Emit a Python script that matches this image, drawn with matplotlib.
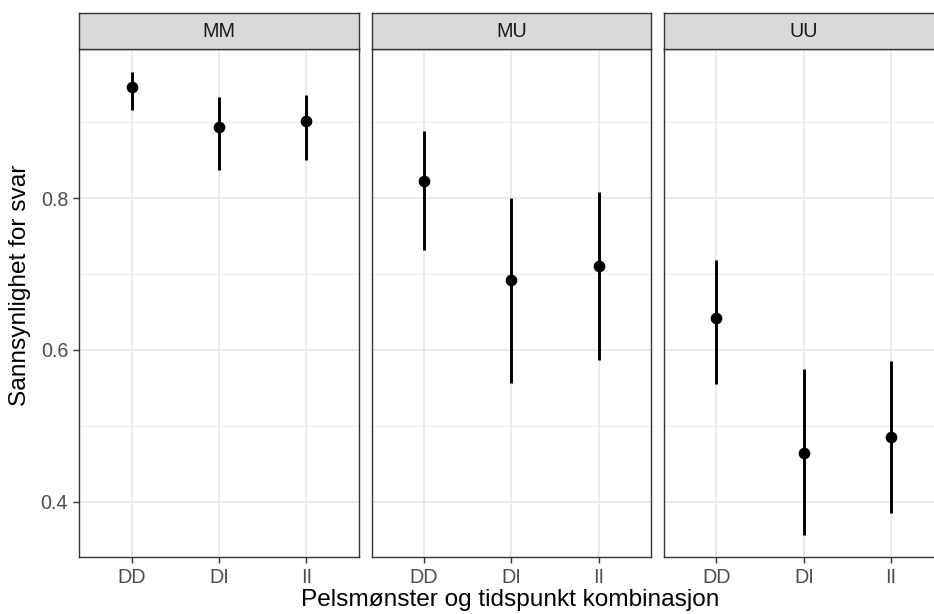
import matplotlib
matplotlib.use("Agg")
import matplotlib.pyplot as plt
import numpy as np

plt.rcParams['font.family'] = ['Liberation Sans', 'DejaVu Sans']

# Data
groups = ["MM", "MU", "UU"]
combos = ["DD", "DI", "II"]

est_mm = [0.946, 0.894, 0.902]
low_mm = [0.916, 0.837, 0.850]
up_mm = [0.966, 0.933, 0.936]

est_mu = [0.823, 0.692, 0.710]
low_mu = [0.732, 0.557, 0.587]
up_mu = [0.888, 0.800, 0.808]

est_uu = [0.642, 0.464, 0.485]
low_uu = [0.555, 0.357, 0.386]
up_uu = [0.719, 0.575, 0.585]

y_major = [0.4, 0.6, 0.8]
y_minor = [0.5, 0.7, 0.9]

estimates = [est_mm, est_mu, est_uu]
lowers = [low_mm, low_mu, low_uu]
uppers = [up_mm, up_mu, up_uu]

W, H = 934, 614


def fx(px):
    return px / W


def fy(px):
    return 1 - px / H


fig = plt.figure(figsize=(W / 100, H / 100), dpi=100)

panel_lefts = [79.3, 371.7, 664.1]
panel_w = 279.4
panel_top, panel_bottom, strip_top = 49.3, 557.3, 12.7
border = '#333333'
grid = '#EBEBEB'
tick_fs = 14.2
title_fs = 17.6

x = np.arange(1, len(combos) + 1)

for i, name in enumerate(groups):
    left = panel_lefts[i]
    ax = fig.add_axes([fx(left), fy(panel_bottom), panel_w / W,
                       (panel_bottom - panel_top) / H])
    ax.set_xlim(0.4, 3.6)
    ax.set_ylim(0.3272, 0.9957)
    ax.set_xticks(x)
    ax.set_xticklabels(combos)
    ax.set_yticks(y_major)
    ax.set_yticks(y_minor, minor=True)
    ax.set_yticklabels([f"{v:.1f}" for v in y_major])
    ax.set_axisbelow(True)
    ax.grid(which='major', color=grid, lw=1.3)
    ax.grid(which='minor', axis='y', color=grid, lw=0.7)
    ax.tick_params(which='minor', length=0)
    ax.tick_params(which='major', color=border, width=1.0, length=4.5,
                   labelsize=tick_fs, labelcolor='#4D4D4D')
    ax.tick_params(axis='x', pad=3.5)
    ax.tick_params(axis='y', pad=3.5)
    if i > 0:
        ax.tick_params(axis='y', left=False, labelleft=False)
    for sp in ax.spines.values():
        sp.set_color(border)
        sp.set_linewidth(1.0)

    ax.vlines(x, lowers[i], uppers[i], color='black', lw=2.1, zorder=3)
    ax.plot(x, estimates[i], 'o', color='black', ms=7.4, zorder=4)

    # facet strip
    sax = fig.add_axes([fx(left), fy(panel_top), panel_w / W,
                        (panel_top - strip_top) / H])
    sax.set_facecolor('#D9D9D9')
    sax.set_xticks([])
    sax.set_yticks([])
    for sp in sax.spines.values():
        sp.set_color(border)
        sp.set_linewidth(1.0)
    sax.text(0.5, 0.48, name, ha='center', va='center', fontsize=tick_fs,
             color='#1A1A1A', transform=sax.transAxes)

fig.text(fx(510), fy(600), "Pelsmønster og tidspunkt kombinasjon",
         ha='center', va='center', fontsize=title_fs, color='black')
fig.text(fx(20), fy(285), "Sannsynlighet for svar", ha='center',
         va='center', rotation=90, fontsize=title_fs, color='black')

fig.savefig("out.png", dpi=100)
